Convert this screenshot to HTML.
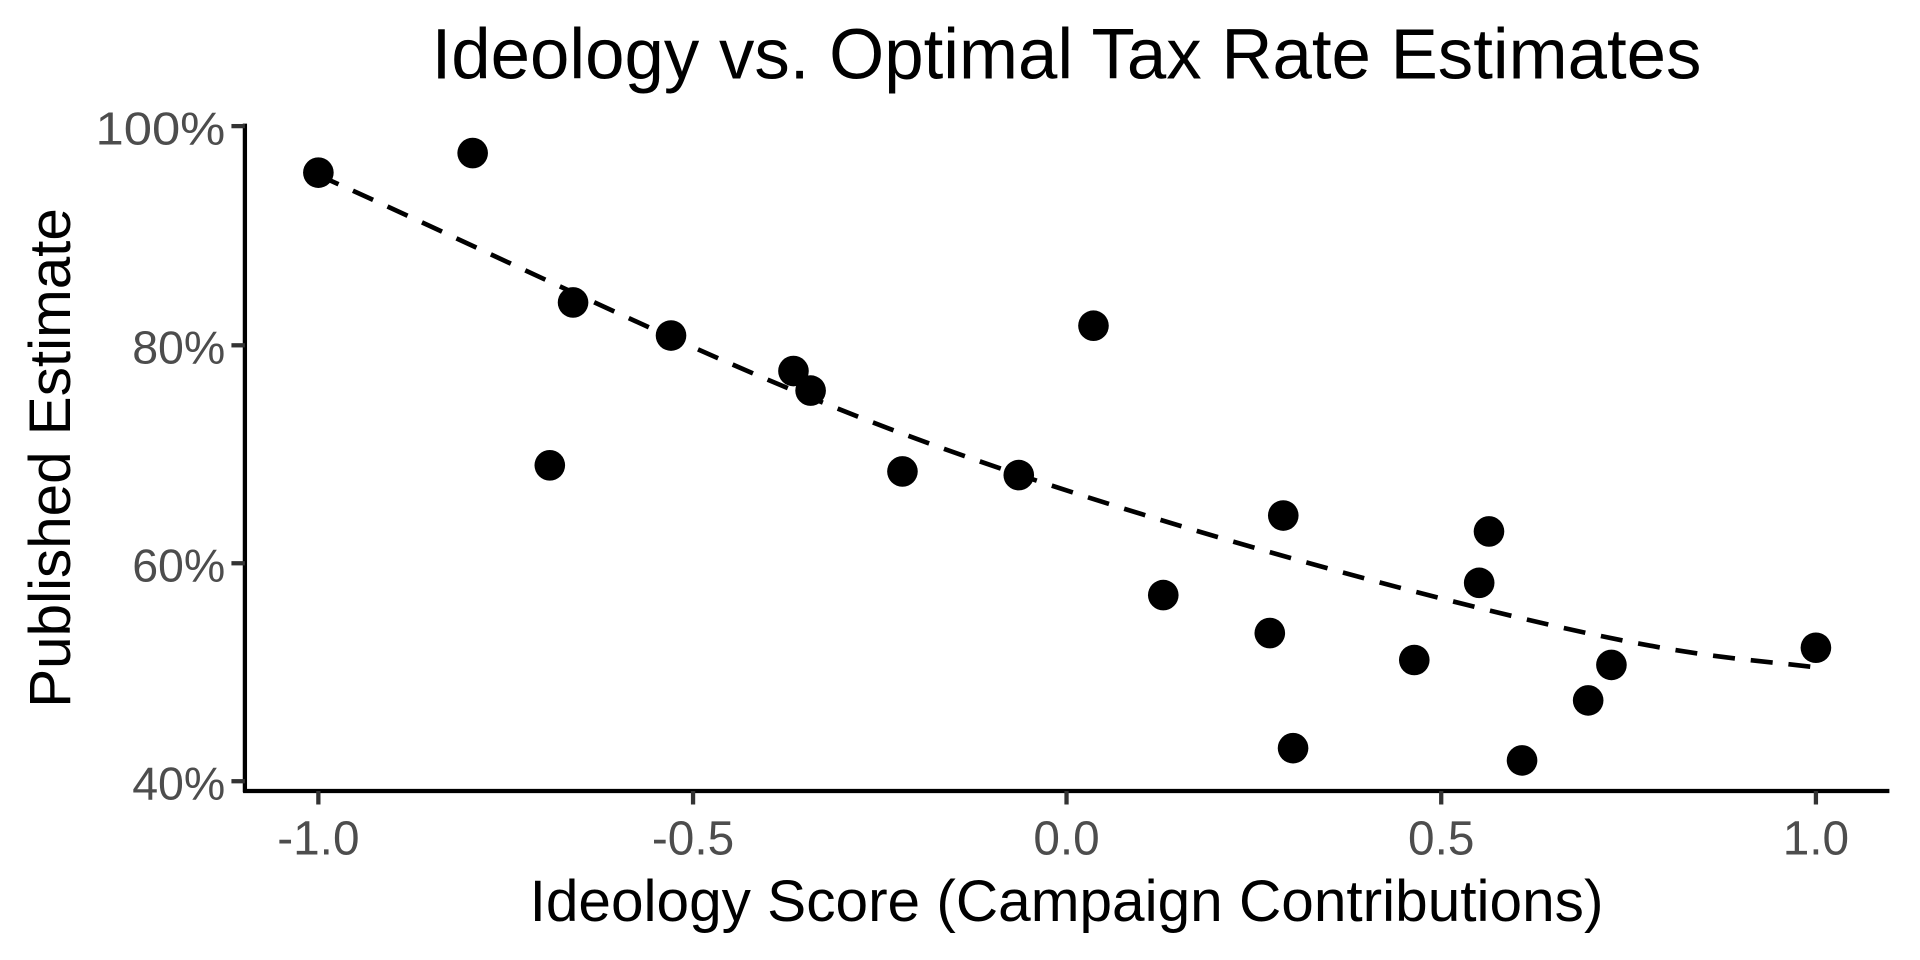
<!DOCTYPE html>
<html><head><style>html,body{margin:0;padding:0;background:#fff;}svg{display:block;}</style></head>
<body>
<svg width="1920" height="960" viewBox="0 0 1568 784" xmlns="http://www.w3.org/2000/svg" font-family="Liberation Sans, sans-serif">
<rect width="1568" height="784" fill="#fff"/>
<text x="871" y="64" font-size="58" text-anchor="middle" fill="#000" textLength="1037" lengthAdjust="spacingAndGlyphs">Ideology vs. Optimal Tax Rate Estimates</text>
<text transform="translate(57,374) rotate(-90)" font-size="48" text-anchor="middle" fill="#000" textLength="408" lengthAdjust="spacingAndGlyphs">Published Estimate</text>
<text x="871" y="752" font-size="48" text-anchor="middle" fill="#000" textLength="877" lengthAdjust="spacingAndGlyphs">Ideology Score (Campaign Contributions)</text>
<g stroke="#000" stroke-width="3.5" fill="none">
<line x1="200" y1="101" x2="200" y2="647"/>
<line x1="198.5" y1="646" x2="1543" y2="646"/>
</g>
<g stroke="#333" stroke-width="3.5">
<line x1="189" y1="103" x2="200" y2="103"/>
<line x1="189" y1="282" x2="200" y2="282"/>
<line x1="189" y1="460" x2="200" y2="460"/>
<line x1="189" y1="638" x2="200" y2="638"/>
<line x1="260" y1="646" x2="260" y2="657"/>
<line x1="566" y1="646" x2="566" y2="657"/>
<line x1="871" y1="646" x2="871" y2="657"/>
<line x1="1177" y1="646" x2="1177" y2="657"/>
<line x1="1483" y1="646" x2="1483" y2="657"/>
</g>
<g font-size="38" fill="#4d4d4d" text-anchor="end">
<text x="184" y="118" textLength="106" lengthAdjust="spacingAndGlyphs">100%</text>
<text x="184" y="297">80%</text>
<text x="184" y="475">60%</text>
<text x="184" y="653">40%</text>
</g>
<g font-size="39" fill="#4d4d4d" text-anchor="middle">
<text x="260" y="698">-1.0</text>
<text x="566" y="698">-0.5</text>
<text x="871" y="698">0.0</text>
<text x="1177" y="698">0.5</text>
<text x="1483" y="698">1.0</text>
</g>
<path d="M260,143 C420,215 560,285 700,340 S1040,455 1210,497 S1420,537 1483,545" stroke="#000" stroke-width="3.8" fill="none" stroke-dasharray="18,13"/>
<g fill="#000">
<circle cx="260" cy="141" r="12.5"/><circle cx="386" cy="125" r="12.5"/><circle cx="468" cy="247" r="12.5"/>
<circle cx="449" cy="380" r="12.5"/><circle cx="548" cy="274" r="12.5"/><circle cx="648" cy="303" r="12.5"/>
<circle cx="662" cy="319" r="12.5"/><circle cx="737" cy="385" r="12.5"/><circle cx="832" cy="388" r="12.5"/>
<circle cx="893" cy="266" r="12.5"/><circle cx="950" cy="486" r="12.5"/><circle cx="1048" cy="421" r="12.5"/>
<circle cx="1037" cy="517" r="12.5"/><circle cx="1056" cy="611" r="12.5"/><circle cx="1155" cy="539" r="12.5"/>
<circle cx="1208" cy="476" r="12.5"/><circle cx="1216" cy="434" r="12.5"/><circle cx="1243" cy="621" r="12.5"/>
<circle cx="1297" cy="572" r="12.5"/><circle cx="1316" cy="543" r="12.5"/><circle cx="1483" cy="529" r="12.5"/>
</g>
</svg>
</body></html>
